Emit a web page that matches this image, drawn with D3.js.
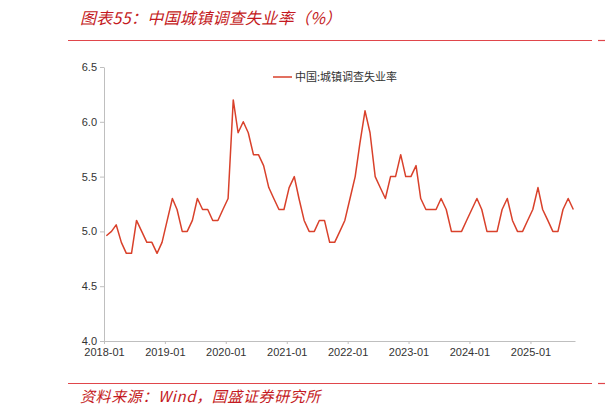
<!DOCTYPE html>
<html>
<head>
<meta charset="utf-8">
<script src="https://cdn.jsdelivr.net/npm/d3@7"></script>
<style>
  body { margin: 0; background: #fff; }
  svg { display: block; }
  .axis path, .axis line { stroke: #bfbfbf; }
  .axis text { font-family: Arial, "Liberation Sans", sans-serif; font-size: 11px; fill: #333; }
</style>
</head>
<body>
<svg id="chart"></svg>
<script>
// monthly surveyed urban unemployment rate, 2018-01 .. 2025-09
const startMonth = '2018-01';
const rates2018 = [4.96, 5.0, 5.06, 4.9, 4.8, 4.8, 5.1, 5.0, 4.9, 4.9, 4.8, 4.9];
const rates2019 = [5.1, 5.3, 5.2, 5.0, 5.0, 5.1, 5.3, 5.2, 5.2, 5.1, 5.1, 5.2];
const rates2020 = [5.3, 6.2, 5.9, 6.0, 5.9, 5.7, 5.7, 5.6, 5.4, 5.3, 5.2, 5.2];
const rates2021 = [5.4, 5.5, 5.3, 5.1, 5.0, 5.0, 5.1, 5.1, 4.9, 4.9, 5.0, 5.1];
const rates2022 = [5.3, 5.5, 5.8, 6.1, 5.9, 5.5, 5.4, 5.3, 5.5, 5.5, 5.7, 5.5];
const rates2023 = [5.5, 5.6, 5.3, 5.2, 5.2, 5.2, 5.3, 5.2, 5.0, 5.0, 5.0, 5.1];
const rates2024 = [5.2, 5.3, 5.2, 5.0, 5.0, 5.0, 5.2, 5.3, 5.1, 5.0, 5.0, 5.1];
const rates2025 = [5.2, 5.4, 5.2, 5.1, 5.0, 5.0, 5.2, 5.3, 5.2];

const yTicks = [4.0, 4.5, 5.0, 5.5, 6.0, 6.5];
const xTickLabels = ['2018-01', '2019-01', '2020-01', '2021-01', '2022-01', '2023-01', '2024-01', '2025-01'];
const seriesName = '中国:城镇调查失业率';
const titleText = '图表55：中国城镇调查失业率（%）';
const sourceText = '资料来源：Wind，国盛证券研究所';

const W = 605, H = 414;
const margin = {top: 67, right: 30, bottom: 73, left: 104};

const parseMonth = d3.timeParse('%Y-%m');
const allRates = [].concat(rates2018, rates2019, rates2020, rates2021, rates2022, rates2023, rates2024, rates2025);
const t0 = parseMonth(startMonth);
const data = allRates.map((v, i) => {
    const d = d3.timeMonth.offset(t0, i);
    return {date: new Date(d.getFullYear(), d.getMonth(), 15), value: v};
});

const svg = d3.select('#chart').attr('width', W).attr('height', H);

// header and footer
const red = '#c41a22';
svg.append('text')
    .attr('x', 80).attr('y', 24)
    .attr('font-family', '"Noto Sans CJK SC", sans-serif')
    .attr('font-style', 'italic')
    .attr('font-size', 16)
    .attr('letter-spacing', 0.3)
    .attr('fill', red)
    .text(titleText);
svg.append('line').attr('x1', 68).attr('x2', 592).attr('y1', 40.5).attr('y2', 40.5)
    .attr('stroke', '#e0464b').attr('stroke-width', 1.2);
svg.append('line').attr('x1', 598).attr('x2', 605).attr('y1', 40.5).attr('y2', 40.5)
    .attr('stroke', '#e0464b').attr('stroke-width', 1.2);

svg.append('line').attr('x1', 68).attr('x2', 592).attr('y1', 383.5).attr('y2', 383.5)
    .attr('stroke', '#e0464b').attr('stroke-width', 1.2);
svg.append('line').attr('x1', 598).attr('x2', 605).attr('y1', 383.5).attr('y2', 383.5)
    .attr('stroke', '#e0464b').attr('stroke-width', 1.2);
svg.append('text')
    .attr('x', 80).attr('y', 402)
    .attr('font-family', '"Noto Sans CJK SC", sans-serif')
    .attr('font-style', 'italic')
    .attr('font-size', 15)
    .attr('letter-spacing', 0.6)
    .attr('fill', red)
    .text(sourceText);

// scales
const x = d3.scaleTime()
    .domain([parseMonth('2018-01'), new Date(2025, 8, 25)])
    .range([margin.left, W - margin.right]);
const y = d3.scaleLinear()
    .domain([4.0, 6.5])
    .range([H - margin.bottom, margin.top]);

// axes
const yAxis = d3.axisLeft(y)
    .tickValues(yTicks)
    .tickFormat(d3.format('.1f'))
    .tickSize(4)
    .tickSizeOuter(0)
    .tickPadding(3);
svg.append('g')
    .attr('class', 'axis y-axis')
    .attr('transform', `translate(${margin.left},0)`)
    .call(yAxis);

const xAxis = d3.axisBottom(x)
    .tickValues(xTickLabels.map(parseMonth))
    .tickFormat(d3.timeFormat('%Y-%m'))
    .tickSize(3)
    .tickSizeOuter(0)
    .tickPadding(4);
svg.append('g')
    .attr('class', 'axis x-axis')
    .attr('transform', `translate(0,${H - margin.bottom})`)
    .call(xAxis);

// series line
const line = d3.line()
    .x(d => x(d.date))
    .y(d => y(d.value));
svg.append('path')
    .datum(data)
    .attr('fill', 'none')
    .attr('stroke', '#d9412b')
    .attr('stroke-width', 1.5)
    .attr('stroke-linejoin', 'round')
    .attr('d', line);

// legend
const legend = svg.append('g').attr('transform', 'translate(273,77)');
legend.append('line').attr('x1', 0).attr('x2', 19).attr('y1', 0).attr('y2', 0)
    .attr('stroke', '#d9412b').attr('stroke-width', 1.5);
legend.append('text')
    .attr('x', 22).attr('y', 4)
    .attr('font-family', '"Noto Sans CJK SC", sans-serif')
    .attr('font-size', 11)
    .attr('fill', '#333')
    .text(seriesName);
</script>
</body>
</html>
